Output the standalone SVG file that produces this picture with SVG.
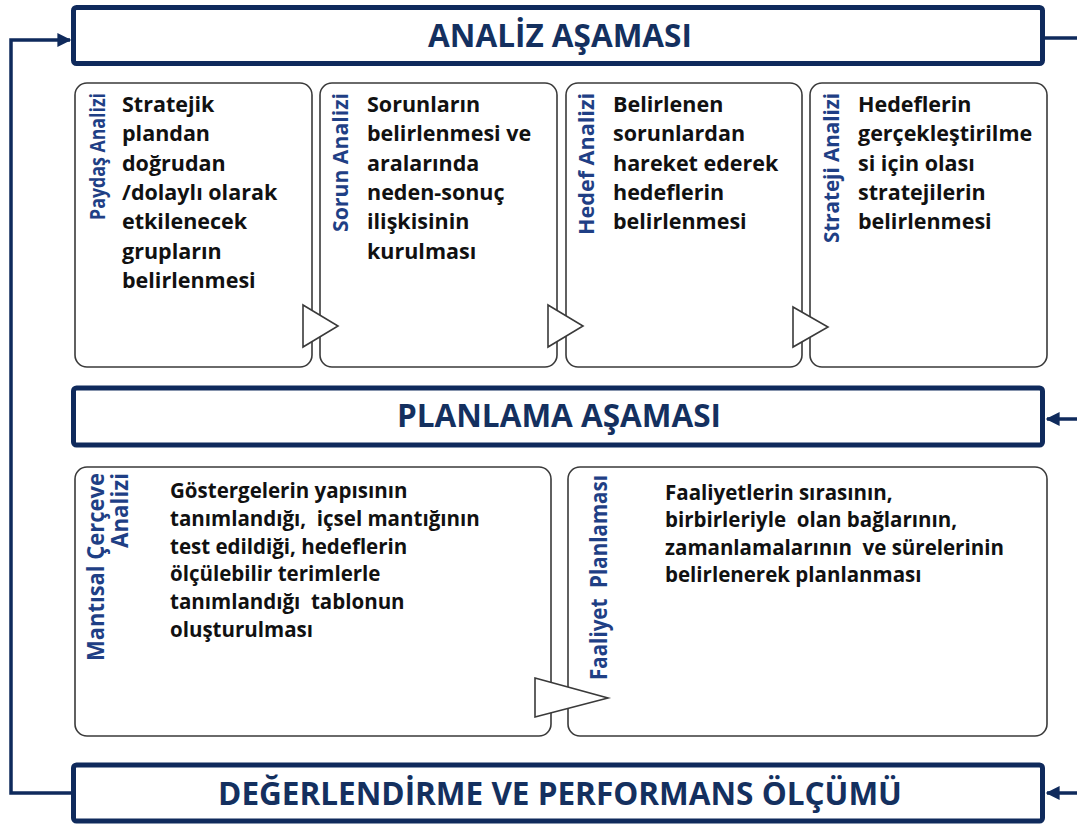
<svg xmlns="http://www.w3.org/2000/svg" width="1077" height="827" viewBox="0 0 1077 827">
<defs>
<marker id="ah" viewBox="0 0 10 10" refX="9" refY="5" markerWidth="5" markerHeight="4" markerUnits="strokeWidth" orient="auto">
<path d="M0,0 L10,5 L0,10 Z" fill="#0f2a5c"/>
</marker>
<style>
.hdr{fill:#fff;stroke:#0f2a5c;stroke-width:5}
.htx{font-family:"Open Sans","Liberation Sans",sans-serif;font-weight:bold;font-size:31.5px;fill:#14305f;text-anchor:middle}
.card{fill:#fff;stroke:#3a3a3a;stroke-width:1.6}
.tri{fill:#fff;stroke:#3a3a3a;stroke-width:1.6;stroke-linejoin:miter}
.body{font-family:"Open Sans","Liberation Sans",sans-serif;font-weight:bold;font-size:21.5px;fill:#111;white-space:pre}
.body2{font-family:"Open Sans","Liberation Sans",sans-serif;font-weight:bold;font-size:20.5px;fill:#111;white-space:pre}
.vl{font-family:"Open Sans","Liberation Sans",sans-serif;font-weight:bold;font-size:22px;fill:#1f3f85;text-anchor:end;white-space:pre}
.vl2{font-family:"Open Sans","Liberation Sans",sans-serif;font-weight:bold;font-size:22.5px;fill:#1f3f85;text-anchor:end;white-space:pre}
.con{fill:none;stroke:#0f2a5c;stroke-width:3.5}
</style>
</defs>
<rect width="1077" height="827" fill="#fff"/>

<g id="connectors">
<path class="con" d="M1045,38 L1077,38"/>
<path class="con" d="M73,793 L11,793 L11,40 L70,40" marker-end="url(#ah)"/>
<path class="con" d="M1077,419 L1047,419" marker-end="url(#ah)"/>
<path class="con" d="M1077,793 L1047,793" marker-end="url(#ah)"/>
</g>

<g id="analiz">
<rect class="hdr" x="73.5" y="7.5" width="969" height="56" rx="3"/>
<text class="htx" x="560" y="47">ANALİZ AŞAMASI</text>
</g>

<g id="paydas">
<rect class="card" x="75" y="83" width="237" height="284" rx="12"/>
<text class="vl" transform="translate(105,93) rotate(-90)" textLength="127" lengthAdjust="spacingAndGlyphs">Paydaş Analizi</text>
<text class="body" x="122" y="112"><tspan x="122">Stratejik</tspan><tspan x="122" dy="29.3">plandan</tspan><tspan x="122" dy="29.3">doğrudan</tspan><tspan x="122" dy="29.3">/dolaylı olarak</tspan><tspan x="122" dy="29.3">etkilenecek</tspan><tspan x="122" dy="29.3">grupların</tspan><tspan x="122" dy="29.3">belirlenmesi</tspan></text>
</g>

<g id="sorun">
<rect class="card" x="320" y="83" width="237" height="284" rx="12"/>
<text class="vl" transform="translate(348,93) rotate(-90)" textLength="139" lengthAdjust="spacingAndGlyphs">Sorun Analizi</text>
<text class="body" x="367" y="112"><tspan x="367">Sorunların</tspan><tspan x="367" dy="29.3">belirlenmesi ve</tspan><tspan x="367" dy="29.3">aralarında</tspan><tspan x="367" dy="29.3">neden-sonuç</tspan><tspan x="367" dy="29.3">ilişkisinin</tspan><tspan x="367" dy="29.3">kurulması</tspan></text>
</g>

<g id="hedef">
<rect class="card" x="566" y="83" width="236" height="284" rx="12"/>
<text class="vl" transform="translate(594,93) rotate(-90)" textLength="142" lengthAdjust="spacingAndGlyphs">Hedef Analizi</text>
<text class="body" x="613" y="112"><tspan x="613">Belirlenen</tspan><tspan x="613" dy="29.3">sorunlardan</tspan><tspan x="613" dy="29.3">hareket ederek</tspan><tspan x="613" dy="29.3">hedeflerin</tspan><tspan x="613" dy="29.3">belirlenmesi</tspan></text>
</g>

<g id="strateji">
<rect class="card" x="810" y="83" width="237" height="284" rx="12"/>
<text class="vl" transform="translate(839,93) rotate(-90)" textLength="150" lengthAdjust="spacingAndGlyphs">Strateji Analizi</text>
<text class="body" x="858" y="112"><tspan x="858">Hedeflerin</tspan><tspan x="858" dy="29.3">gerçekleştirilme</tspan><tspan x="858" dy="29.3">si için olası</tspan><tspan x="858" dy="29.3">stratejilerin</tspan><tspan x="858" dy="29.3">belirlenmesi</tspan></text>
</g>

<g id="arrows-upper">
<polygon class="tri" points="303,305 338,326 303,347"/>
<polygon class="tri" points="548,305 583,326 548,347"/>
<polygon class="tri" points="793,307 828,327 793,347"/>
</g>

<g id="planlama">
<rect class="hdr" x="73.5" y="388" width="969" height="57" rx="3"/>
<text class="htx" x="559" y="427">PLANLAMA AŞAMASI</text>
</g>

<g id="mantisal">
<rect class="card" x="75" y="467" width="476" height="269" rx="12"/>
<text class="vl2" transform="translate(104,473) rotate(-90)" textLength="188" lengthAdjust="spacingAndGlyphs">Mantısal Çerçeve</text>
<text class="vl2" transform="translate(128,473) rotate(-90)" textLength="75" lengthAdjust="spacingAndGlyphs">Analizi</text>
<text class="body2" x="170" y="498"><tspan x="170">Göstergelerin yapısının</tspan><tspan x="170" dy="27.8">tanımlandığı,  içsel mantığının</tspan><tspan x="170" dy="27.8">test edildiği, hedeflerin</tspan><tspan x="170" dy="27.8">ölçülebilir terimlerle</tspan><tspan x="170" dy="27.8">tanımlandığı  tablonun</tspan><tspan x="170" dy="27.8">oluşturulması</tspan></text>
</g>

<g id="faaliyet">
<rect class="card" x="568" y="467" width="479" height="269" rx="12"/>
<text class="vl2" transform="translate(607,475) rotate(-90)" textLength="205" lengthAdjust="spacingAndGlyphs">Faaliyet  Planlaması</text>
<text class="body2" x="665" y="500"><tspan x="665">Faaliyetlerin sırasının,</tspan><tspan x="665" dy="27.3">birbirleriyle  olan bağlarının,</tspan><tspan x="665" dy="27.3">zamanlamalarının  ve sürelerinin</tspan><tspan x="665" dy="27.3">belirlenerek planlanması</tspan></text>
</g>

<g id="arrow-lower">
<polygon class="tri" points="535,678 608,698 535,717"/>
</g>

<g id="degerlendirme">
<rect class="hdr" x="73.5" y="765" width="969" height="56" rx="3"/>
<text class="htx" x="560" y="805">DEĞERLENDİRME VE PERFORMANS ÖLÇÜMÜ</text>
</g>
</svg>
